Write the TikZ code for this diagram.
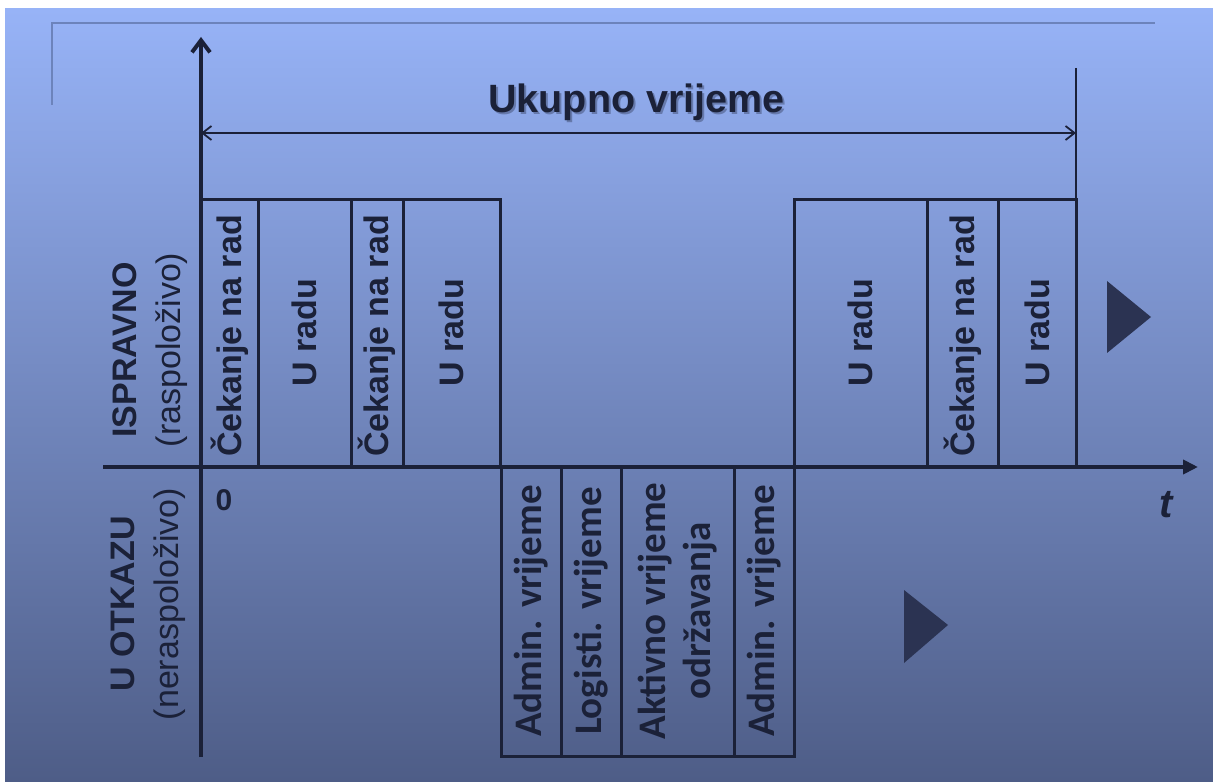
\documentclass[tikz,border=0pt]{standalone}
\usepackage{fontspec}
\setmainfont{Liberation Sans}
\newfontfamily\carlito{Carlito}
\usetikzlibrary{arrows.meta}
\definecolor{ink}{HTML}{1B2138}
\definecolor{bgtop}{HTML}{97B3F7}
\definecolor{bgmid}{HTML}{8099D3}
\definecolor{bgbot}{HTML}{4E5D87}
\definecolor{framecol}{HTML}{6C83BB}
\definecolor{tricol}{HTML}{2B3352}
\begin{document}
\begin{tikzpicture}[x=1pt,y=-1pt,
    box/.style={draw=ink,line width=3pt},
    uptext/.style={rotate=90,text=ink,font=\bfseries\fontsize{34}{40}\selectfont},
    downtext/.style={rotate=90,text=ink,align=center,font=\carlito\bfseries\fontsize{39}{45}\selectfont},
    sidetext/.style={rotate=90,text=ink,align=center,font=\fontsize{34}{44}\selectfont}]
    \useasboundingbox (0,0) rectangle (1213,783);
    \fill[white] (0,0) rectangle (1213,783);
    \shade[top color=bgtop,middle color=bgmid,bottom color=bgbot] (5,9) rectangle (1213,781);
    % frame corner
    \draw[framecol,line width=2pt] (52,105) -- (52,23) -- (1155,23);
    % axes
    \coordinate (ybot) at (201,757);
    \coordinate (ytop) at (201,37);
    \coordinate (xleft) at (103,467);
    \coordinate (xright) at (1198,467);
    \draw[ink,line width=4pt,-{Straight Barb[length=12pt,width=18pt]}] (ybot) -- (ytop);
    \draw[ink,line width=4pt,-{Triangle[length=15pt,width=14pt]}] (xleft) -- (xright);
    % total time
    \coordinate (tend) at (1076,68);
    \coordinate (tfoot) at (1076,200);
    \coordinate (dimL) at (201,133);
    \coordinate (dimR) at (1076,133);
    \draw[ink,line width=2pt] (tend) -- (tfoot);
    \draw[ink,line width=1.8pt,{Straight Barb[length=9pt,width=14pt]}-{Straight Barb[length=9pt,width=14pt]}] (dimL) -- (dimR);
    \node[anchor=base,text=ink!60!bgtop,opacity=.6,font=\bfseries\fontsize{39.5}{44}\selectfont] (totshadow) at (638.5,115) {Ukupno vrijeme};
    \node[anchor=base,text=ink,font=\bfseries\fontsize{39.5}{44}\selectfont] (total) at (636.5,113) {Ukupno vrijeme};
    % up states
    \draw[box] (201,200) rectangle (258,467);
    \draw[box] (258,200) rectangle (351,467);
    \draw[box] (351,200) rectangle (403,467);
    \draw[box] (403,200) rectangle (500,467);
    \draw[box] (794,200) rectangle (927,467);
    \draw[box] (927,200) rectangle (998,467);
    \draw[box] (998,200) rectangle (1076,467);
    \node[uptext] (wait1) at (230,336) {Čekanje na rad};
    \node[uptext] (run1) at (304.5,333) {U radu};
    \node[uptext] (wait2) at (377,336) {Čekanje na rad};
    \node[uptext] (run2) at (451.5,333) {U radu};
    \node[uptext] (run3) at (860.5,333) {U radu};
    \node[uptext] (wait3) at (962.5,336) {Čekanje na rad};
    \node[uptext] (run4) at (1037,333) {U radu};
    % down states
    \draw[box] (501,467) rectangle (561,756);
    \draw[box] (561,467) rectangle (621,756);
    \draw[box] (621,467) rectangle (734,756);
    \draw[box] (734,467) rectangle (794,756);
    \node[downtext] (admin1) at (531,611) {Admin. vrijeme};
    \node[downtext] (logist) at (591,611) {Logisti. vrijeme};
    \node[downtext] (active) at (677.5,611) {Aktivno vrijeme\\održavanja};
    \node[downtext] (admin2) at (764,611) {Admin. vrijeme};
    % labels
    \node[sidetext] (uplabel) at (150,350) {{\bfseries ISPRAVNO}\\(raspoloživo)};
    \node[sidetext] (downlabel) at (148,604) {{\bfseries U OTKAZU}\\(neraspoloživo)};
    \node[text=ink,font=\bfseries\fontsize{30}{34}\selectfont] (zero) at (224,500) {0};
    \node[text=ink,font=\bfseries\itshape\fontsize{40}{44}\selectfont] (tlabel) at (1166,505) {t};
    % markers
    \fill[tricol] (1107,281) -- (1151,317) -- (1107,353) -- cycle;
    \fill[tricol] (904,590) -- (948,625) -- (904,663) -- cycle;
\end{tikzpicture}
\end{document}
